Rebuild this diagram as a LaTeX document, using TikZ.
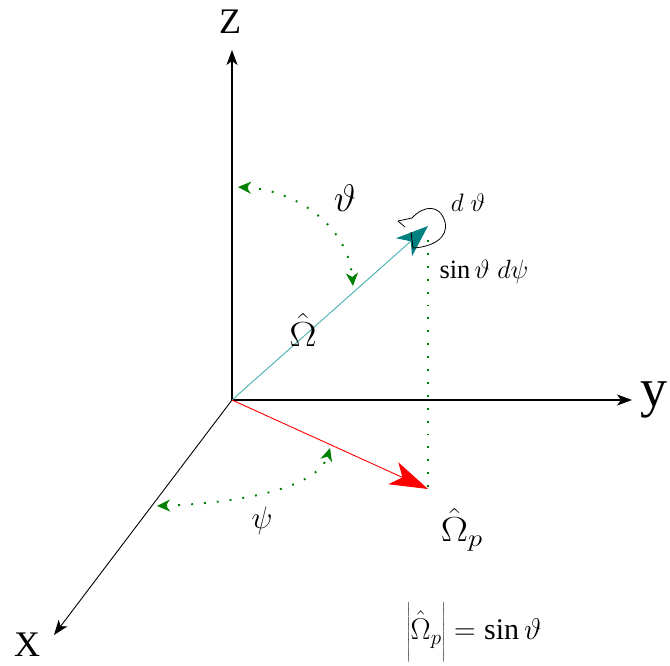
\RequirePackage{fix-cm}
\documentclass[tikz,border=0pt]{standalone}
\usepackage{fontspec}
\setmainfont{Liberation Serif}
\usetikzlibrary{arrows.meta}
\definecolor{arcgreen}{RGB}{0,128,0}
\definecolor{tealhead}{RGB}{0,128,128}
\definecolor{tealline}{RGB}{70,175,175}
\definecolor{vecred}{RGB}{255,0,0}
\newcommand\sclab[3]{\scalebox{#1}[#2]{#3}}
\begin{document}
\begin{tikzpicture}[x=1pt,y=-1pt,
  axis/.style={line width=1.1pt,-{Stealth[length=15pt,width=11pt,inset=4pt]}},
  greendots/.style={arcgreen,line width=1.9pt,dash pattern=on 1.9pt off 11pt},
  greenarc/.style={greendots,
     {Stealth[length=13pt,width=12pt,inset=4pt,color=arcgreen]}-{Stealth[length=13pt,width=12pt,inset=4pt,color=arcgreen]}},
  lab/.style={inner sep=0pt,font=\fontsize{24}{28}\selectfont}]
\useasboundingbox (0,0) rectangle (670,666);
% points
\coordinate (O) at (232,400);
\coordinate (Zt) at (232,50);
\coordinate (Yt) at (632,400);
\coordinate (Xt) at (54,635);
\coordinate (W) at (428,226);
\coordinate (P) at (428,489);
\coordinate (Wd) at (428,240);
\coordinate (T1) at (238,187);
\coordinate (T2) at (353,286);
\coordinate (S1) at (157,506);
\coordinate (S2) at (330,448);
% axes
\draw[axis] (O) -- (Zt);
\draw[axis] (O) -- (Yt);
\draw[axis,line width=0.9pt] (O) -- (Xt);
% omega vector
\draw[tealline,line width=0.9pt,-{Stealth[length=32pt,width=24pt,inset=9pt,color=tealhead]}] (O) -- (W);
% projection
\draw[greendots] (Wd) -- (P);
\draw[vecred,line width=0.9pt,-{Stealth[length=38pt,width=24pt,inset=10pt]}] (O) -- (P);
% angle arcs
\draw[greenarc] (T1) .. controls (295,190) and (348,225) .. (T2);
\draw[greenarc] (S1) .. controls (240,503) and (318,488) .. (S2);
% rotation curl
\draw[line width=0.8pt] (398,221) -- (412,218) .. controls (424,205) and (440,204) .. (445,222)
   .. controls (449,238) and (432,247) .. (413,248) -- (411,232);
\draw[line width=0.8pt] (398,221) -- (405,227);
% labels
\node[lab,font=\fontsize{36}{40}\selectfont] (zl) at (230,22) {Z};
\node[lab,font=\fontsize{54}{58}\selectfont] (yl) at (654,400) {y};
\node[lab,font=\fontsize{36}{40}\selectfont] (xl) at (27,645) {X};
\node[lab] (thl) at (345,198) {\sclab{1.6}{1.6}{$\vartheta$}};
\node[lab] (oml) at (303,330) {\sclab{1.7}{1.45}{$\hat{\Omega}$}};
\node[lab] (omp) at (462,530) {\sclab{1.7}{1.45}{$\hat{\Omega}_p$}};
\node[lab] (psl) at (262,521) {\sclab{1.3}{1.3}{$\psi$}};
\node[lab] (dth) at (468,203) {\sclab{1.05}{1.05}{$d\;\vartheta$}};
\node[lab] (sdp) at (484,272) {\sclab{1.1}{1.1}{$\sin\vartheta\;d\psi$}};
\node[lab] (form) at (474,632) {\sclab{1.25}{1.25}{$\left|\vrule height 30pt depth 18pt width 0pt\hat{\Omega}_p\right| = \sin\vartheta$}};
\end{tikzpicture}
\end{document}
